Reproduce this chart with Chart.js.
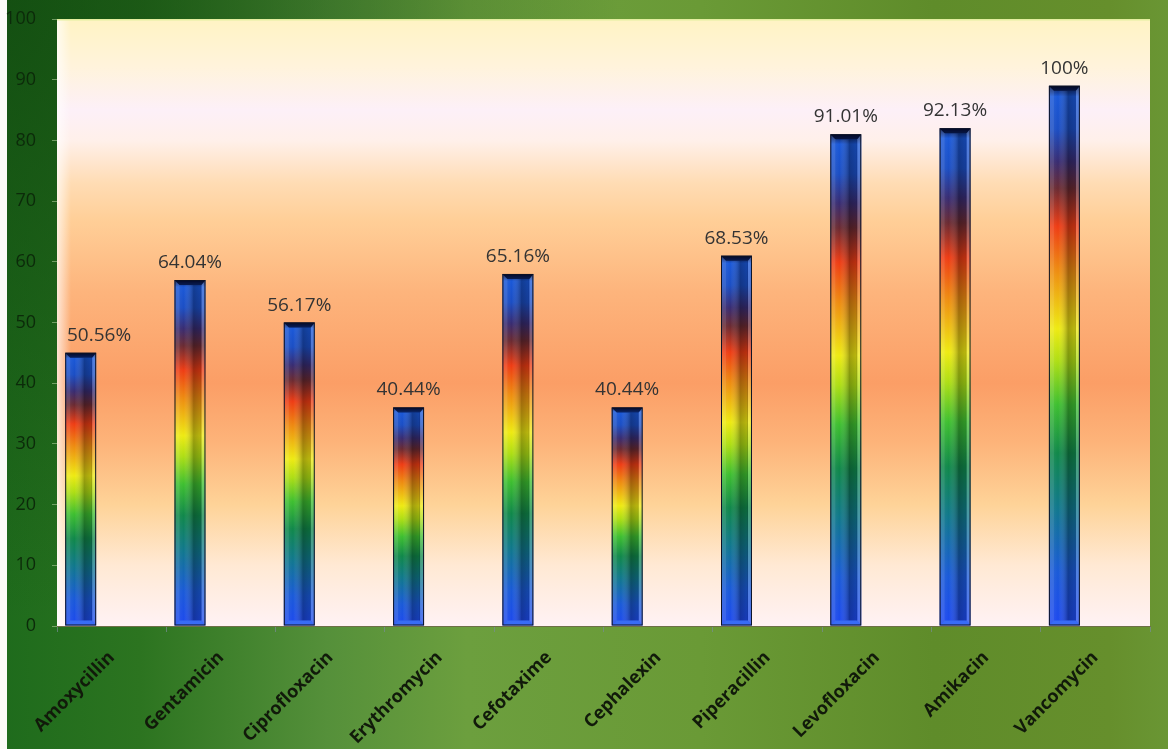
<!DOCTYPE html>
<html>
<head>
<meta charset="utf-8">
<title>Antibiotic susceptibility</title>
<script src="https://cdn.jsdelivr.net/npm/chart.js@4/dist/chart.umd.min.js"></script>
<style>
  html, body { margin: 0; padding: 0; background: #ffffff; }
  #chart { display: block; }
</style>
</head>
<body>
<canvas id="chart" width="1168" height="749"></canvas>
<script>
// Antibiotics tested
const antibiotics = ['Amoxycillin', 'Gentamicin', 'Ciprofloxacin', 'Erythromycin', 'Cefotaxime',
  'Cephalexin', 'Piperacillin', 'Levofloxacin', 'Amikacin', 'Vancomycin'];
// Number of susceptible isolates per antibiotic
const susceptibleCounts = [45, 57, 50, 36, 58, 36, 61, 81, 82, 89];
// Share of the 89 isolates, as printed above each bar
const percentLabels = ['50.56%', '64.04%', '56.17%', '40.44%', '65.16%', '40.44%', '68.53%', '91.01%', '92.13%', '100%'];
// Empty companion series keep the bar in the left third of each category
const emptySeries = antibiotics.map(() => null);
// Value axis
const yMin = 0, yMax = 100, yStep = 10;

const FONT = '"Open Sans", "Liberation Sans", sans-serif';

// Rainbow fill running from the top of each bar (0) to its base (1)
const barStops = [
  [0.00, '#0a1640'], [0.02, '#1a58d8'], [0.08, '#1b4ec4'], [0.14, '#382c72'],
  [0.19, '#6a2a32'], [0.26, '#ee3c14'], [0.34, '#ee8a10'], [0.45, '#eeea12'],
  [0.51, '#aede14'], [0.59, '#3ebf30'], [0.68, '#10884a'], [0.78, '#10788c'],
  [0.90, '#1a5ad8'], [1.00, '#1e48f0']
];

function barFill(c) {
  const chart = c.chart;
  const area = chart.chartArea;
  if (!area || c.raw == null) return '#1a50d0';
  const y = chart.scales.y;
  const top = y.getPixelForValue(c.raw);
  const base = y.getPixelForValue(0);
  const g = chart.ctx.createLinearGradient(0, top, 0, base);
  barStops.forEach(([o, col]) => g.addColorStop(o, col));
  return g;
}

// Page and plot backgrounds
const backdrop = {
  id: 'backdrop',
  beforeDraw(chart) {
    const { ctx, width, height, chartArea: a } = chart;
    ctx.save();
    const bg = ctx.createLinearGradient(0, 0, width, 0);
    bg.addColorStop(0.00, '#1e6b1c');
    bg.addColorStop(0.12, '#2c7420');
    bg.addColorStop(0.28, '#55903a');
    bg.addColorStop(0.40, '#6c9f3e');
    bg.addColorStop(0.60, '#6a9a36');
    bg.addColorStop(0.80, '#5f8c2a');
    bg.addColorStop(0.95, '#668f2c');
    bg.addColorStop(1.00, '#6a9634');
    ctx.fillStyle = bg;
    ctx.fillRect(0, 0, width, height);
    const corner = ctx.createRadialGradient(0, 0, 0, 0, 0, 620);
    corner.addColorStop(0, 'rgba(16,70,14,0.75)');
    corner.addColorStop(1, 'rgba(16,70,14,0)');
    ctx.fillStyle = corner;
    ctx.fillRect(0, 0, width, height);
    ctx.fillStyle = '#fbfbf8';
    ctx.fillRect(0, 0, 7, height);

    const pg = ctx.createLinearGradient(0, a.top, 0, a.bottom);
    pg.addColorStop(0.00, '#fff3c4');
    pg.addColorStop(0.08, '#fff3dc');
    pg.addColorStop(0.15, '#fdf0f8');
    pg.addColorStop(0.20, '#fff0ea');
    pg.addColorStop(0.27, '#ffdcb4');
    pg.addColorStop(0.33, '#ffcf98');
    pg.addColorStop(0.45, '#fdb47c');
    pg.addColorStop(0.60, '#fb9e66');
    pg.addColorStop(0.70, '#fdb47a');
    pg.addColorStop(0.80, '#fed398');
    pg.addColorStop(0.90, '#ffe9d4');
    pg.addColorStop(1.00, '#fff2f4');
    ctx.fillStyle = pg;
    ctx.fillRect(a.left, a.top, a.right - a.left, a.bottom - a.top);
    const edge = ctx.createLinearGradient(a.left, 0, a.left + 14, 0);
    edge.addColorStop(0, 'rgba(255,255,255,0.7)');
    edge.addColorStop(1, 'rgba(255,255,255,0)');
    ctx.fillStyle = edge;
    ctx.fillRect(a.left, a.top, 14, a.bottom - a.top);
    ctx.fillStyle = '#e4efa0';
    ctx.fillRect(a.left, a.top, a.right - a.left, 1.5);
    ctx.restore();
  }
};

// Bevelled edges on each bar, then the percentage above it
const barDecor = {
  id: 'barDecor',
  afterDatasetsDraw(chart) {
    const { ctx, chartArea: a } = chart;
    const meta = chart.getDatasetMeta(0);
    ctx.save();
    meta.data.forEach((bar, i) => {
      const p = bar.getProps(['x', 'y', 'base', 'width'], true);
      const l = p.x - p.width / 2, r = p.x + p.width / 2, t = p.y, b = p.base;
      const bv = 5;
      // bright left half, shaded right half
      const face = ctx.createLinearGradient(l, 0, r, 0);
      face.addColorStop(0.00, 'rgba(255,255,255,0.10)');
      face.addColorStop(0.30, 'rgba(255,255,255,0.0)');
      face.addColorStop(0.62, 'rgba(0,0,0,0.32)');
      face.addColorStop(0.84, 'rgba(0,0,0,0.22)');
      face.addColorStop(1.00, 'rgba(0,0,0,0.05)');
      ctx.fillStyle = face;
      ctx.fillRect(l + bv, t + bv, r - l - 2 * bv, b - t - 2 * bv);
      const poly = (pts, col) => {
        ctx.beginPath();
        ctx.moveTo(pts[0][0], pts[0][1]);
        for (let k = 1; k < pts.length; k++) ctx.lineTo(pts[k][0], pts[k][1]);
        ctx.closePath();
        ctx.fillStyle = col;
        ctx.fill();
      };
      poly([[l, t], [l + bv, t + bv], [l + bv, b - bv], [l, b]], 'rgba(255,255,255,0.14)');
      poly([[r, t], [r - bv + 1, t + bv], [r - bv + 1, b - bv], [r, b]], 'rgba(255,255,255,0.24)');
      poly([[l, t], [r, t], [r - bv + 1, t + bv], [l + bv, t + bv]], 'rgba(0,0,20,0.6)');
      poly([[l, b], [r, b], [r - bv + 1, b - bv], [l + bv, b - bv]], 'rgba(90,150,255,0.45)');
      ctx.strokeStyle = 'rgba(0,0,20,0.3)';
      ctx.lineWidth = 1;
      ctx.beginPath();
      ctx.moveTo(r - bv + 0.5, t + bv); ctx.lineTo(r - bv + 0.5, b - bv);
      ctx.stroke();
      ctx.strokeStyle = '#0c1226';
      ctx.strokeRect(l + 0.5, t + 0.5, r - l - 1, b - t - 1);

      // value label
      ctx.font = '19px ' + FONT;
      ctx.fillStyle = '#343434';
      ctx.textBaseline = 'alphabetic';
      const txt = percentLabels[i];
      const w = ctx.measureText(txt).width;
      let cx = p.x;
      if (cx - w / 2 < a.left + 10) cx = a.left + 10 + w / 2;
      ctx.textAlign = 'center';
      ctx.fillText(txt, cx, t - 12);
    });
    ctx.restore();
  }
};

function zeroPadding(s) {
  s.paddingTop = 0; s.paddingBottom = 0; s.paddingLeft = 0; s.paddingRight = 0;
}

new Chart(document.getElementById('chart'), {
  type: 'bar',
  data: {
    labels: antibiotics,
    datasets: [
      { label: 'Susceptible', data: susceptibleCounts, backgroundColor: barFill, borderWidth: 0 },
      { label: 'b', data: emptySeries },
      { label: 'c', data: emptySeries }
    ]
  },
  options: {
    responsive: false,
    devicePixelRatio: 1,
    animation: false,
    events: [],
    categoryPercentage: 0.85,
    barPercentage: 1.0,
    layout: { padding: { left: 0, right: 18, top: 19, bottom: 0 } },
    plugins: { legend: { display: false }, tooltip: { enabled: false } },
    scales: {
      x: {
        afterFit(s) { s.height = 123; zeroPadding(s); },
        grid: { display: true, drawOnChartArea: false, drawTicks: true, tickLength: 6, tickColor: 'rgba(120,140,150,0.7)', offset: true },
        border: { display: true, color: '#6e6e48', width: 1 },
        ticks: {
          autoSkip: false, minRotation: 45, maxRotation: 45, padding: 15,
          color: '#111a0a', font: { family: FONT, size: 18, weight: 'bold' }
        }
      },
      y: {
        min: yMin, max: yMax,
        afterFit(s) { s.width = 57; zeroPadding(s); },
        grid: { display: true, drawOnChartArea: false, drawTicks: true, tickLength: 5, tickColor: 'rgba(170,200,150,0.6)' },
        border: { display: false },
        ticks: { stepSize: yStep, padding: 16, color: '#0c2a0a', font: { family: FONT, size: 18 } }
      }
    }
  },
  plugins: [backdrop, barDecor]
});
</script>
</body>
</html>
